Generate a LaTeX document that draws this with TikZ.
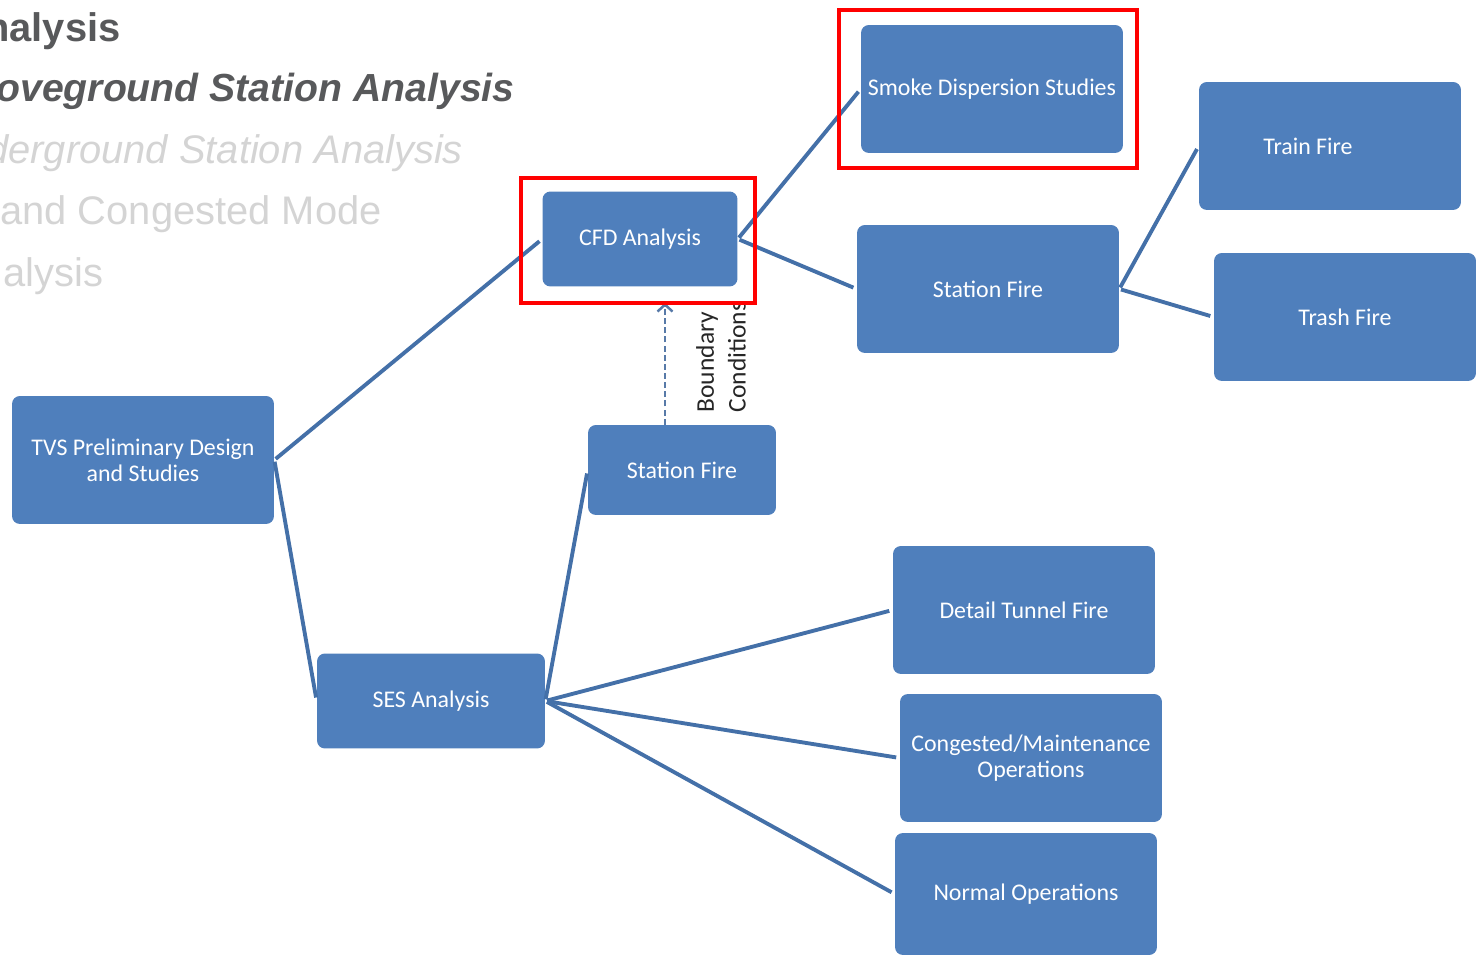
\documentclass[tikz,border=0pt]{standalone}
\usepackage{fontspec}
\usepackage{xcolor}
\usepackage{tikz}
\usetikzlibrary{arrows.meta}
\newfontfamily\boxfont{Carlito}
\newfontfamily\slidefont{Liberation Sans}
\definecolor{boxblue}{HTML}{4F7FBC}
\definecolor{linkblue}{HTML}{4470A8}
\definecolor{dashblue}{HTML}{587AA8}
\definecolor{titlegray}{HTML}{58595B}
\definecolor{fadegray}{HTML}{D4D4D4}
\tikzset{
	box/.style={fill=boxblue, rounded corners=4.5pt, text=white, align=center, inner sep=0pt, font=\boxfont\fontsize{13.6}{14.7}\selectfont},
	bigbox/.style={box, minimum width=5.24cm, minimum height=2.56cm},
	link/.style={linkblue, line width=2.2pt, shorten <=1pt, shorten >=2pt},
	bcarrow/.style={dashblue, line width=1.4pt, dash pattern=on 3.4pt off 1.8pt, -{Straight Barb[length=4pt,width=8.5pt]}, shorten >=0.32cm},
	hilite/.style={draw=red, line width=2.3pt},
	slide/.style={anchor=base west, inner sep=0pt, font=\slidefont\fontsize{22.7}{27}\selectfont}
}

\begin{document}
\begin{tikzpicture}[x=0.02cm, y=-0.02cm]
		\useasboundingbox (0,0) rectangle (1478,955);
		\clip (0,0) rectangle (1478,955);

		\node (t1) at (-15,42) [slide, text=titlegray] {\bfseries nalysis};
		\node (t2) at (-4,102) [slide, text=titlegray, font=\slidefont\fontsize{22.3}{27}\selectfont] {\bfseries\itshape oveground Station Analysis};
		\node (t3) at (-14,164) [slide, text=fadegray] {\itshape derground Station Analysis};
		\node (t4) at (0,225) [slide, text=fadegray] {and Congested Mode};
		\node (t5) at (3,287) [slide, text=fadegray] {alysis};

		\node (tvs) at (143,460) [bigbox] {TVS Preliminary Design\\and Studies};
		\node (ses) at (431,701) [box, minimum width=4.56cm, minimum height=1.9cm] {SES Analysis};
		\node (cfd) at (640,239) [box, minimum width=3.9cm, minimum height=1.9cm] {CFD Analysis};
		\node (sfl) at (682,470) [box, minimum width=3.76cm, minimum height=1.8cm] {Station Fire};
		\node (smoke) at (992,89) [bigbox] {Smoke Dispersion Studies};
		\node (sfu) at (988,289) [bigbox] {Station Fire};
		\node (train) at (1330,146) [bigbox] {Train Fire\hspace*{0.88cm}};
		\node (trash) at (1345,317) [bigbox] {Trash Fire};
		\node (tunnel) at (1024,610) [bigbox] {Detail Tunnel Fire};
		\node (cong) at (1031,758) [bigbox] {Congested/Maintenance\\Operations};
		\node (normal) at (1026,894) [bigbox, minimum height=2.44cm] {Normal Operations};

		\draw [link] (tvs.east) -- (cfd.west);
		\draw [link] (tvs.east) -- (ses.west);
		\draw [link] (cfd.east) -- (smoke.west);
		\draw [link] (cfd.east) -- (sfu.west);
		\draw [link] (sfu.east) -- (train.west);
		\draw [link] (sfu.east) -- (trash.west);
		\draw [link] (ses.east) -- (sfl.west);
		\draw [link] (ses.east) -- (tunnel.west);
		\draw [link] (ses.east) -- (cong.west);
		\draw [link] (ses.east) -- (normal.west);

		\draw [bcarrow] ([xshift=-0.34cm]sfl.north) coordinate (bcfoot) -- (bcfoot |- cfd.south);
		\node (bc) at (721,357) [rotate=90, align=left, inner sep=0pt, text=black!85, font=\boxfont\fontsize{14.5}{18}\selectfont] {Boundary\\Conditions};

		\draw [hilite] ([shift={(-21,-13)}]cfd.north west) rectangle ([shift={(17,16)}]cfd.south east);
		\draw [hilite] ([shift={(-22,-15)}]smoke.north west) rectangle ([shift={(14,15)}]smoke.south east);

	\end{tikzpicture}
\end{document}
